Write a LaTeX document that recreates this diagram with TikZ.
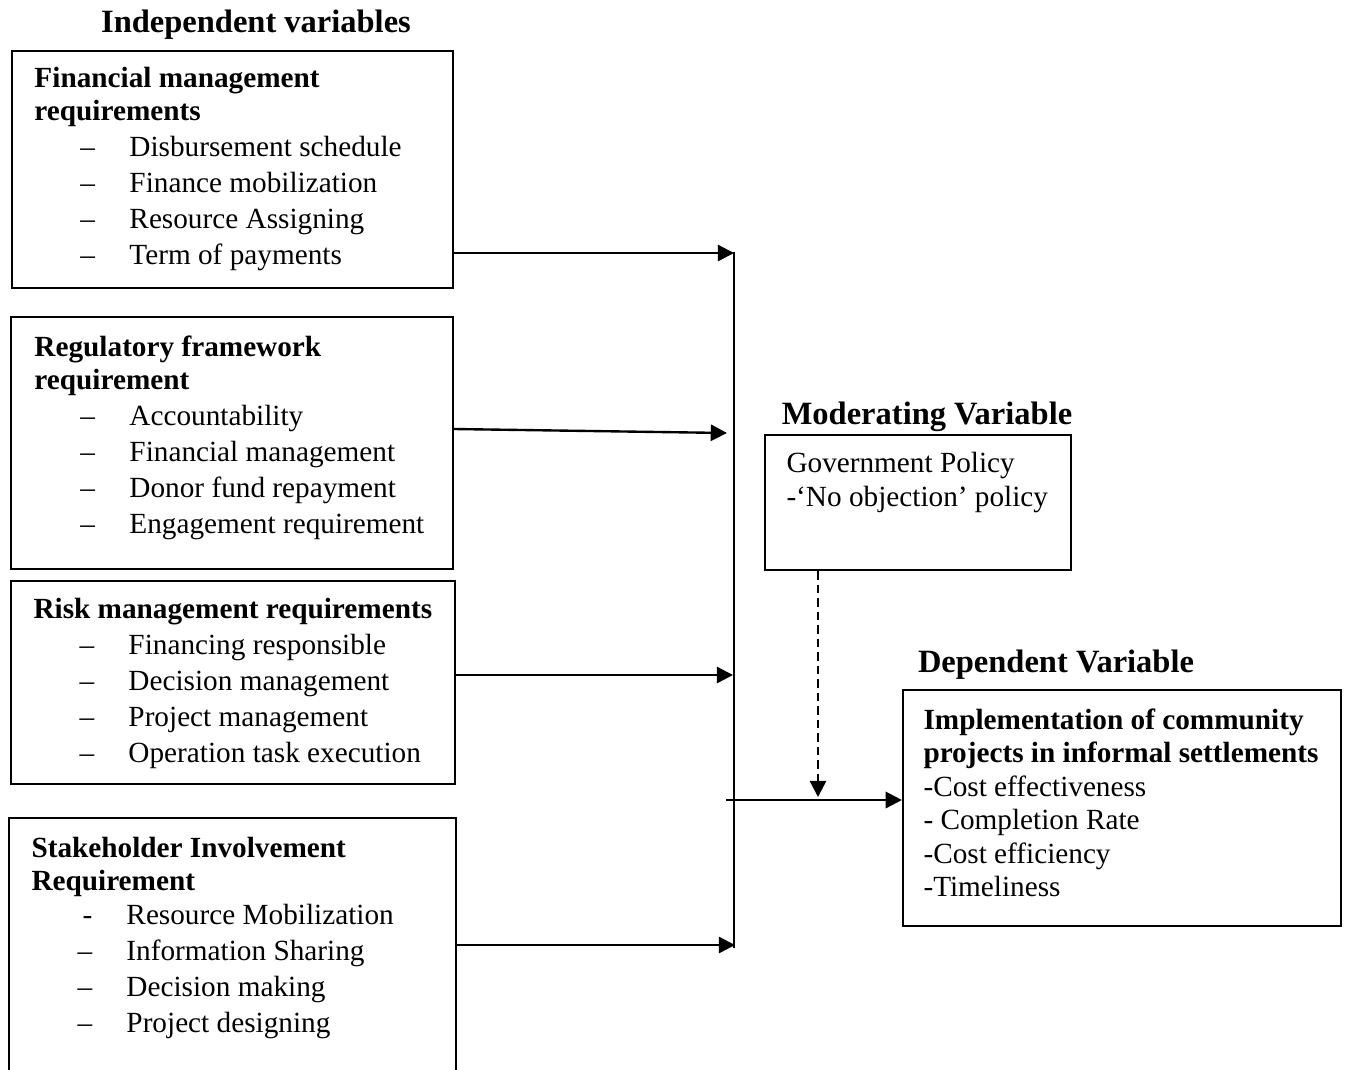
\documentclass[tikz,border=0pt]{standalone}
\usepackage{fontspec}
\setmainfont{Liberation Serif}
\usepackage{tikz}
\usetikzlibrary{arrows.meta, fit}

\newcommand{\itm}[1]{\hspace*{18.4pt}\makebox[19.6pt][l]{--}#1}
\newcommand{\itmh}[1]{\hspace*{18.4pt}\makebox[19.6pt][l]{\hspace{2pt}-}#1}

\begin{document}
\begin{tikzpicture}[x=0.4pt, y=-0.4pt,
    box/.style={draw, line width=0.85pt, inner sep=0pt},
    body/.style={align=left, inner sep=0pt, anchor=north west, font=\fontsize{11.7}{14.4}\selectfont},
    title/.style={inner sep=0pt, font=\fontsize{13}{15}\selectfont\bfseries},
    arr/.style={line width=0.95pt, -{Triangle[length=6.5pt,width=6.5pt]}}]
    \useasboundingbox (0,0) rectangle (1347,1069);
    % titles
    \node[title] (indep) at (256,25) {Independent variables};
    \node[title] (moder) at (927,417) {Moderating Variable};
    \node[title] (depen) at (1056,665) {Dependent Variable};
    % independent variable boxes
    \node[box, fit={(12,51) (453,288)}] (fin) {};
    \node[box, fit={(11,317) (453,569)}] (reg) {};
    \node[box, fit={(11,581) (455,784)}] (risk) {};
    \node[box, fit={(9,818) (456,1071)}] (stake) {};
    \node[body] (fintxt) at (34,67) {\textbf{Financial management}\\[-1.2pt]
        \textbf{requirements}\\
        \itm{Disbursement schedule}\\
        \itm{Finance mobilization}\\
        \itm{Resource Assigning}\\
        \itm{Term of payments}};
    \node[body] (regtxt) at (34,335) {\textbf{Regulatory framework}\\[-1.2pt]
        \textbf{requirement}\\
        \itm{Accountability}\\
        \itm{Financial management}\\
        \itm{Donor fund repayment}\\
        \itm{Engagement requirement}};
    \node[body] (risktxt) at (33,598) {\textbf{Risk management requirements}\\
        \itm{Financing responsible}\\
        \itm{Decision management}\\
        \itm{Project management}\\
        \itm{Operation task execution}};
    \node[body] (staketxt) at (31,837) {\textbf{Stakeholder Involvement}\\[-1.2pt]
        \textbf{Requirement}\\[-1pt]
        \itmh{Resource Mobilization}\\
        \itm{Information Sharing}\\
        \itm{Decision making}\\
        \itm{Project designing}};
    % moderating and dependent boxes
    \node[box, fit={(765,435) (1071,570)}] (mod) {};
    \node[body, font=\fontsize{11.7}{13.5}\selectfont] (modtxt) at (786,452) {Government Policy\\
        -‘No objection’ policy};
    \node[box, fit={(903,690) (1341,926)}] (dep) {};
    \node[body, font=\fontsize{11.7}{13.4}\selectfont] (deptxt) at (923,708) {\textbf{Implementation of community}\\
        \textbf{projects in informal settlements}\\
        -Cost effectiveness\\
        - Completion Rate\\
        -Cost efficiency\\
        -Timeliness};
    % collecting line
    \coordinate (top) at (734,252);
    \coordinate (bot) at (734,948);
    \coordinate (j1) at (734,253);
    \coordinate (j2) at (727,433);
    \coordinate (j3) at (733,675);
    \coordinate (j4) at (735,945);
    \coordinate (out) at (726,800);
    \coordinate (meet) at (818,797);
    \draw[line width=0.95pt] (top) -- (bot);
    % relations
    \draw[arr] (fin.east |- j1) -- (j1);
    \draw[arr] (reg.east |- 0,429) -- (j2);
    \draw[arr] (risk.east |- j3) -- (j3);
    \draw[arr] (stake.east |- j4) -- (j4);
    \draw[arr] (out) -- (dep.west |- out);
    \draw[arr, dash pattern=on 3.4pt off 2pt] (mod.south -| meet) -- (meet);
\end{tikzpicture}
\end{document}
